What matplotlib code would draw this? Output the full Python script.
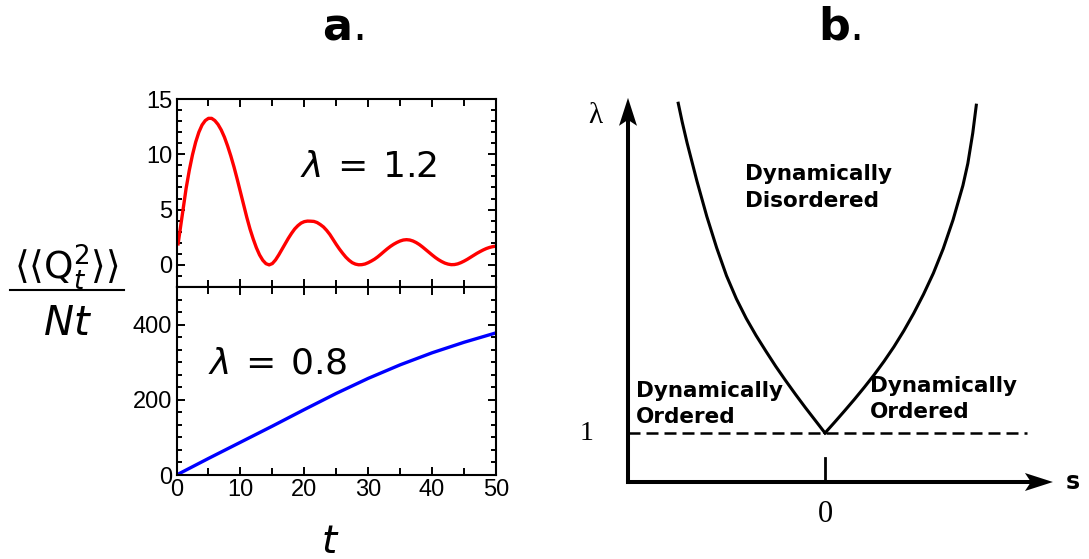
import matplotlib
matplotlib.use("Agg")
import matplotlib.pyplot as plt
from matplotlib.ticker import MultipleLocator, FixedLocator
from matplotlib.patches import Polygon
from matplotlib.lines import Line2D

# ---------------- data: panel a ----------------
t_top = [0.25, 0.5, 1.0, 1.5, 2.0, 2.5, 3.0, 3.5, 4.0, 4.5, 5.0, 5.5, 6.0, 6.5, 7.0, 7.5,
         8.0, 8.5, 9.0, 9.5, 10.0, 10.5, 11.0, 11.5, 12.0, 12.5, 13.0, 13.5, 14.0, 14.5,
         15.0, 15.5, 16.0, 16.5, 17.0, 17.5, 18.0, 18.5, 19.0, 19.5, 20.0, 20.5, 21.0,
         21.5, 22.0, 22.5, 23.0, 23.5, 24.0, 24.5, 25.0, 25.5, 26.0, 26.5, 27.0, 27.5,
         28.0, 28.5, 29.0, 29.5, 30.0, 30.5, 31.0, 31.5, 32.0, 32.5, 33.0, 33.5, 34.0,
         34.5, 35.0, 35.5, 36.0, 36.5, 37.0, 37.5, 38.0, 38.5, 39.0, 39.5, 40.0, 40.5,
         41.0, 41.5, 42.0, 42.5, 43.0, 43.5, 44.0, 44.5, 45.0, 45.5, 46.0, 46.5, 47.0,
         47.5, 48.0, 48.5, 49.0, 49.5, 50.0]
q_top = [1.9, 2.9, 4.9, 6.9, 8.55, 9.95, 11.1, 12.0, 12.65, 13.05, 13.25, 13.25, 13.05,
         12.7, 12.2, 11.55, 10.75, 9.85, 8.85, 7.75, 6.6, 5.45, 4.3, 3.25, 2.35, 1.55,
         0.9, 0.42, 0.11, 0.0, 0.12, 0.45, 0.9, 1.4, 1.9, 2.4, 2.85, 3.25, 3.55, 3.78,
         3.91, 3.96, 3.95, 3.93, 3.83, 3.65, 3.43, 3.12, 2.75, 2.3, 1.85, 1.43, 1.05,
         0.7, 0.42, 0.2, 0.07, 0.01, 0.02, 0.08, 0.2, 0.35, 0.52, 0.73, 0.97, 1.22, 1.46,
         1.68, 1.87, 2.03, 2.16, 2.25, 2.28, 2.25, 2.16, 2.02, 1.84, 1.62, 1.38, 1.14,
         0.9, 0.67, 0.47, 0.3, 0.16, 0.07, 0.02, 0.03, 0.09, 0.2, 0.34, 0.5, 0.68, 0.86,
         1.04, 1.2, 1.35, 1.48, 1.58, 1.65, 1.7]
t_bot = [0, 5, 10, 15, 20, 25, 30, 35, 40, 45, 50]
q_bot = [0, 44, 87, 130, 174, 217, 257, 293, 325, 353, 378]
top_yticks = [0, 5, 10, 15]
bot_yticks = [0, 200, 400]
t_ticks = [0, 10, 20, 30, 40, 50]
label_top = r"$\lambda\:=\:1.2$"
label_bot = r"$\lambda\:=\:0.8$"

# ---------------- data: panel b ----------------
s_left = [0.0, -0.05, -0.10, -0.15, -0.20, -0.25, -0.30, -0.35, -0.40, -0.45, -0.50,
          -0.55, -0.60, -0.65, -0.70, -0.725, -0.745]
lam_left = [1.0, 1.26, 1.52, 1.79, 2.07, 2.36, 2.67, 2.99, 3.34, 3.74, 4.21, 4.78, 5.42,
            6.14, 6.92, 7.35, 7.73]
s_right = [0.0, 0.05, 0.10, 0.15, 0.20, 0.25, 0.30, 0.35, 0.40, 0.45, 0.50, 0.55, 0.60,
           0.65, 0.70, 0.725, 0.75, 0.768]
lam_right = [1.0, 1.225, 1.455, 1.69, 1.935, 2.19, 2.465, 2.76, 3.085, 3.44, 3.83, 4.26,
             4.76, 5.35, 6.05, 6.5, 7.12, 7.69]
lam_crit = 1.0
s_axis_min, s_axis_max = -1.0, 1.157
lam_axis_max = 7.84

W, H = 1089, 559
fig = plt.figure(figsize=(W / 100, H / 100), dpi=100)


def fx(px):
    return px / W


def fy(py):
    return 1 - py / H


left, right = 176.5, 496
ax1 = fig.add_axes([fx(left), fy(287), (right - left) / W, 188 / H])
ax2 = fig.add_axes([fx(left), fy(475), (right - left) / W, 188 / H])

ax1.plot(t_top, q_top, color="#ff0000", lw=2.4, solid_joinstyle="round")
ax2.plot(t_bot, q_bot, color="#0000ff", lw=2.4, solid_joinstyle="round")

ax1.set_xlim(0, 50)
ax2.set_xlim(0, 50)
ax1.set_ylim(-2, 15)
ax2.set_ylim(0, 500)
ax1.yaxis.set_major_locator(FixedLocator(top_yticks))
ax1.yaxis.set_minor_locator(MultipleLocator(1))
ax2.yaxis.set_major_locator(FixedLocator(bot_yticks))
ax2.yaxis.set_minor_locator(MultipleLocator(200 / 6))
for ax in (ax1, ax2):
    ax.xaxis.set_major_locator(FixedLocator(t_ticks))
    ax.xaxis.set_minor_locator(MultipleLocator(5))
    for sp in ax.spines.values():
        sp.set_linewidth(1.5)
    ax.tick_params(which="both", direction="in", top=True, right=True, width=1.4)
    ax.tick_params(axis="x", which="major", length=5.5, pad=3)
    ax.tick_params(axis="x", which="minor", length=5.0)
    ax.tick_params(axis="y", which="major", length=6.0, pad=3)
    ax.tick_params(axis="y", which="minor", length=3.3)
    for lab in ax.get_xticklabels() + ax.get_yticklabels():
        lab.set_fontfamily("Liberation Sans")
        lab.set_fontsize(17)
ax1.tick_params(axis="x", which="both", labelbottom=False)

fig.text(fx(300), fy(177), label_top, fontsize=26, ha="left", va="baseline")
fig.text(fx(208), fy(373), label_bot, fontsize=26, ha="left", va="baseline")

# x label
fig.text(fx(330), fy(553), r"$t$", fontsize=28, ha="center", va="baseline")

# y label (fraction)
fig.text(fx(66), fy(279), r"$\langle\langle \mathrm{Q}_t^2 \rangle\rangle$",
         fontsize=27, ha="center", va="baseline")
fig.add_artist(Line2D([fx(10), fx(124)], [fy(290), fy(290)], color="black", lw=1.5,
                      transform=fig.transFigure))
fig.text(fx(68), fy(335), r"$Nt$", fontsize=29, ha="center", va="baseline")

# panel labels
fig.text(fx(322), fy(40), r"$\mathbf{a}$.", fontsize=32, ha="left", va="baseline")
fig.text(fx(818), fy(40), r"$\mathbf{b}$.", fontsize=32, ha="left", va="baseline")

# ---------------- panel b ----------------
axb = fig.add_axes([fx(560), 0, (W - 560) / W, 1])
ppx_s = 1 / 197.0   # data units per pixel (s)
ppx_l = 1 / 49.0    # data units per pixel (lambda)
axb.set_xlim((560 - 825) * ppx_s, (W - 825) * ppx_s)
axb.set_ylim(-(H - 482) * ppx_l, 482 * ppx_l)
axb.axis("off")

head_len, head_half, notch = 28, 9, 22
# vertical axis
axb.plot([s_axis_min, s_axis_min], [0, lam_axis_max - notch * ppx_l], color="black",
         lw=2.9, solid_capstyle="projecting")
axb.add_patch(Polygon([(s_axis_min, lam_axis_max),
                       (s_axis_min - head_half * ppx_s, lam_axis_max - head_len * ppx_l),
                       (s_axis_min, lam_axis_max - notch * ppx_l),
                       (s_axis_min + head_half * ppx_s, lam_axis_max - head_len * ppx_l)],
                      closed=True, color="black", lw=0))
# horizontal axis
axb.plot([s_axis_min, s_axis_max - notch * ppx_s], [0, 0], color="black", lw=2.9,
         solid_capstyle="projecting")
axb.add_patch(Polygon([(s_axis_max, 0),
                       (s_axis_max - head_len * ppx_s, head_half * ppx_l),
                       (s_axis_max - notch * ppx_s, 0),
                       (s_axis_max - head_len * ppx_s, -head_half * ppx_l)],
                      closed=True, color="black", lw=0))
# tick at s = 0
axb.plot([0, 0], [0, 24 * ppx_l], color="black", lw=2.0)
# dashed critical line
axb.plot([s_axis_min, 1.025], [lam_crit, lam_crit], color="black", lw=1.8,
         linestyle=(0, (4.8, 2.4)))
# phase boundaries
axb.plot(s_left, lam_left, color="black", lw=2.2, solid_joinstyle="round")
axb.plot(s_right, lam_right, color="black", lw=2.2, solid_joinstyle="round")

axb.text(-1.168, 7.33, "λ", ha="center", va="baseline", family="Liberation Serif", size=21)
axb.text(-1.208, 0.857, "1", ha="center", va="baseline", family="Liberation Serif", size=20)
axb.text(0, -0.816, "0", ha="center", va="baseline", family="Liberation Serif", size=22)
axb.text(1.259, -0.14, "s", ha="center", va="baseline", family="DejaVu Sans",
         weight="bold", size=17)

bold = dict(family="DejaVu Sans", weight="bold", size=15.5, ha="left", va="baseline")
axb.text(-0.406, 6.16, "Dynamically", **bold)
axb.text(-0.406, 5.62, "Disordered", **bold)
axb.text(-0.959, 1.74, "Dynamically", **bold)
axb.text(-0.959, 1.20, "Ordered", **bold)
axb.text(0.228, 1.84, "Dynamically", **bold)
axb.text(0.228, 1.30, "Ordered", **bold)

fig.savefig("out.png", dpi=100)
